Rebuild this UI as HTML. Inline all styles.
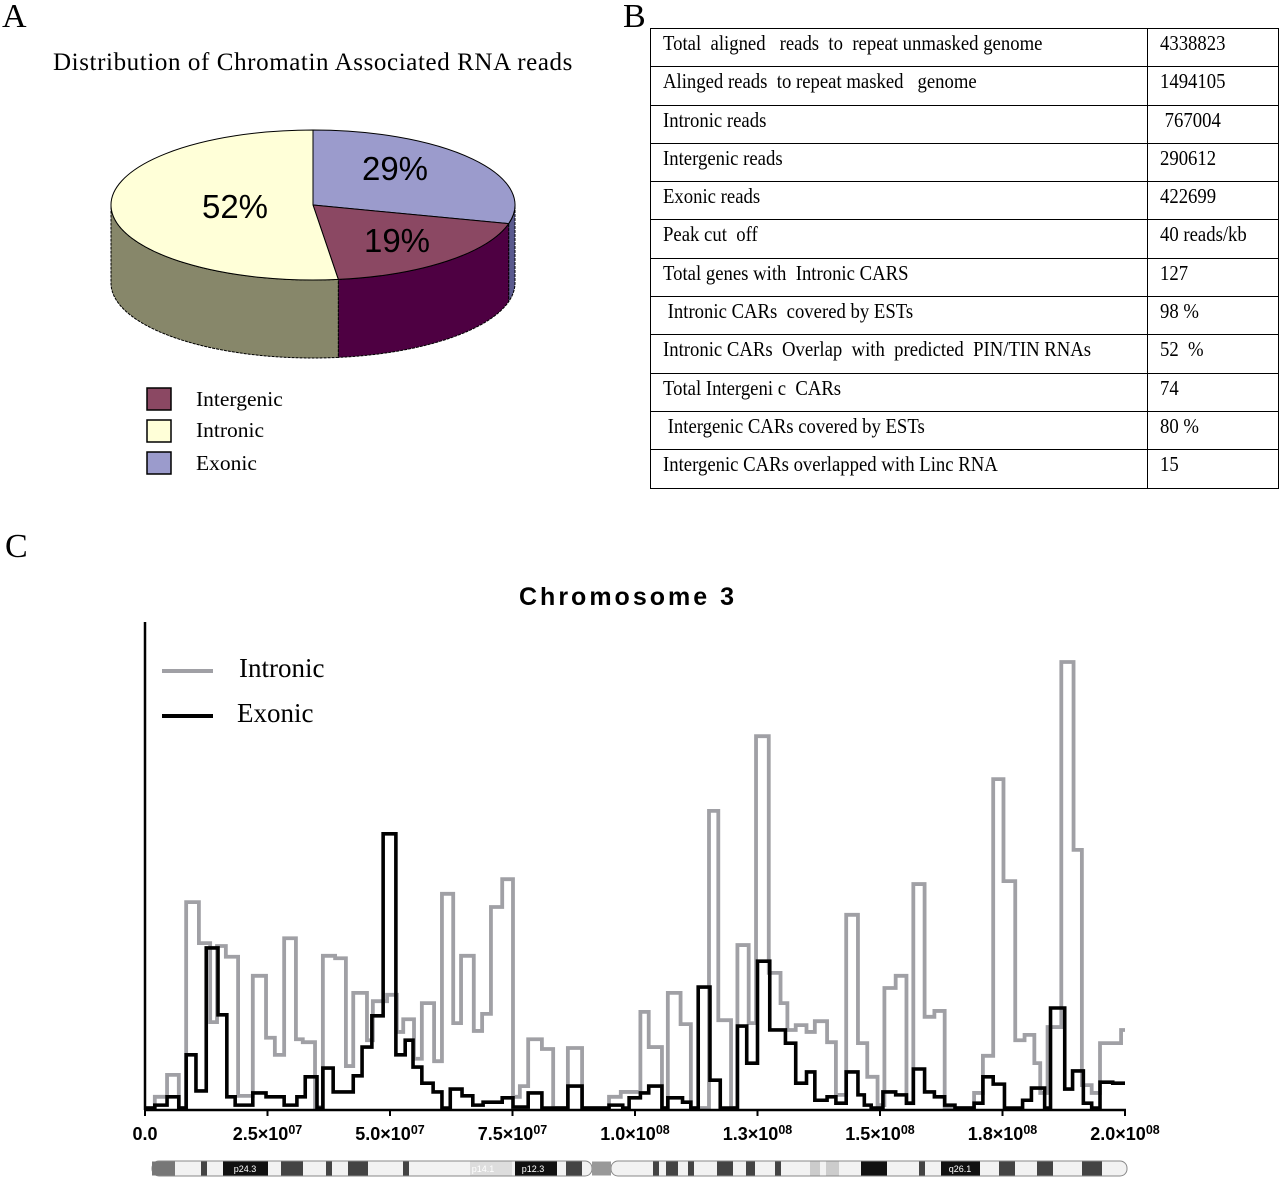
<!DOCTYPE html>
<html><head><meta charset="utf-8">
<style>
html,body{margin:0;padding:0;background:#fff;}
body{width:1280px;height:1182px;position:relative;overflow:hidden;font-family:"Liberation Serif",serif;}
.abs{position:absolute;}
.panel-letter{font-size:34px;color:#000;line-height:1;}
table{border-collapse:collapse;table-layout:fixed;}
td{border:1.5px solid #000;height:37.3px;padding:0 0 0 12px;vertical-align:top;font-size:21.5px;line-height:28px;white-space:nowrap;overflow:visible;}
td span{display:inline-block;transform:scaleX(0.87);transform-origin:left center;}
</style></head><body>

<div class="abs panel-letter" style="left:2px;top:0px;">A</div>
<div class="abs panel-letter" style="left:623px;top:0px;">B</div>
<div class="abs panel-letter" style="left:5px;top:530px;">C</div>

<svg class="abs" style="left:0;top:0" width="620" height="500">
  <text x="313" y="70" text-anchor="middle" font-family="Liberation Serif, serif" font-size="25" letter-spacing="0.6">Distribution of Chromatin Associated RNA reads</text>
  <g id="pie"></g>
  <g>
    <rect x="147" y="388" width="24" height="22" fill="#8b4863" stroke="#000" stroke-width="1.5"/>
    <text x="196" y="406" font-size="21.5">Intergenic</text>
    <rect x="147" y="420" width="24" height="22" fill="#ffffd8" stroke="#000" stroke-width="1.5"/>
    <text x="196" y="437" font-size="21.5">Intronic</text>
    <rect x="147" y="452" width="24" height="22" fill="#9b9bcc" stroke="#000" stroke-width="1.5"/>
    <text x="196" y="470" font-size="21.5">Exonic</text>
  </g>
</svg>

<table class="abs" style="left:650px;top:28px;width:628px;">
<colgroup><col style="width:497px"><col style="width:131px"></colgroup>
<tr><td><span>Total&nbsp; aligned&nbsp;&nbsp; reads&nbsp; to&nbsp; repeat unmasked genome</span></td><td><span>4338823</span></td></tr>
<tr><td><span>Alinged reads&nbsp; to repeat masked&nbsp;&nbsp; genome</span></td><td><span>1494105</span></td></tr>
<tr><td><span>Intronic reads</span></td><td><span>&nbsp;767004</span></td></tr>
<tr><td><span>Intergenic reads</span></td><td><span>290612</span></td></tr>
<tr><td><span>Exonic reads</span></td><td><span>422699</span></td></tr>
<tr><td><span>Peak cut&nbsp; off</span></td><td><span>40 reads/kb</span></td></tr>
<tr><td><span>Total genes with&nbsp; Intronic CARS</span></td><td><span>127</span></td></tr>
<tr><td><span>&nbsp;Intronic CARs&nbsp; covered by ESTs</span></td><td><span>98 %</span></td></tr>
<tr><td><span>Intronic CARs&nbsp; Overlap&nbsp; with&nbsp; predicted&nbsp; PIN/TIN RNAs</span></td><td><span>52&nbsp; %</span></td></tr>
<tr><td><span>Total Intergeni c&nbsp; CARs</span></td><td><span>74</span></td></tr>
<tr><td><span>&nbsp;Intergenic CARs covered by ESTs</span></td><td><span>80 %</span></td></tr>
<tr><td><span>Intergenic CARs overlapped with Linc RNA</span></td><td><span>15</span></td></tr>
</table>

<svg class="abs" style="left:0;top:560px" width="1280" height="622">
  <g transform="translate(0,-560)">
    <text x="628" y="605" text-anchor="middle" font-family="Liberation Sans, sans-serif" font-weight="bold" font-size="25" letter-spacing="3">Chromosome 3</text>
    <line x1="162" y1="671" x2="213" y2="671" stroke="#a0a0a5" stroke-width="4"/>
    <text x="239" y="677" font-size="27">Intronic</text>
    <line x1="162" y1="716" x2="213" y2="716" stroke="#000" stroke-width="4"/>
    <text x="237" y="722" font-size="27">Exonic</text>
    <g id="plot"></g>
    <g id="ideo"></g>
  </g>
</svg>

<script>
// ---- Pie data ----
const pieCategories = ["Exonic", "Intergenic", "Intronic"];
const piePercents = [29, 19, 52];

// ---- Chromosome 3 histogram data (start positions in Mb, values in relative read density) ----
const xTickValues = [0, 25, 50, 75, 100, 125, 150, 175, 200];
const xTickMantissa = ["0.0", "2.5", "5.0", "7.5", "1.0", "1.3", "1.5", "1.8", "2.0"];
const xTickExponent = ["", "07", "07", "07", "08", "08", "08", "08", "08"];
const intronicStarts = [0,2.0,4.5,6.9,8.4,11.0,13.3,14.7,16.5,19.0,22.0,24.7,26.5,28.4,30.8,32.2,34.7,36.3,38.8,41.0,42.5,45.3,46.5,49.4,51.4,52.7,54.9,56.5,59.0,60.6,62.9,64.5,67.1,68.8,70.6,72.9,75.1,76.5,78.2,81.0,83.3,86.3,89.2,94.7,97.1,101.1,102.8,105.5,106.7,109.3,111.4,115.1,117.0,119.6,120.9,123.2,124.7,127.3,129.7,131.1,132.8,135.0,136.7,139.2,141.0,143.1,145.5,147.4,149.5,150.9,153.2,155.4,156.8,159.1,161.1,163.2,169.2,171.0,173.1,175.2,177.6,179.5,181.5,182.7,184.2,187.0,189.5,191.2,193.2,194.9,199.2];
const intronicValues = [0.4,2.7,7.2,0.4,42.6,34.2,18.0,33.6,31.4,2.9,27.5,14.8,11.3,35.2,14.5,13.9,0.6,31.6,31.1,9.0,24.0,14.3,22.3,23.6,16.0,18.6,10.5,21.9,10.0,44.3,17.8,31.6,16.2,19.7,41.6,47.3,2.7,4.9,14.5,12.5,0.4,12.7,0.4,2.7,3.7,20.1,12.9,0.4,24.0,17.6,0.4,61.3,18.4,0.4,33.8,17.8,76.6,28.1,21.9,16.4,17.4,16.0,18.2,13.9,3.1,40.0,13.7,6.8,1.0,25.0,27.5,1.4,46.3,19.1,20.3,0.4,3.5,11.1,67.8,46.9,14.3,15.4,9.6,3.5,17.0,91.8,53.3,5.1,3.5,13.7,16.4];
const exonicStarts = [0,2.0,4.5,6.9,8.4,10.4,12.5,14.9,16.7,18.4,22.0,24.7,28.4,31.0,32.7,35.1,36.3,38.4,42.5,44.3,46.3,48.6,51.2,53.1,54.7,56.5,58.8,60.6,62.3,64.7,66.9,69.0,72.9,75.1,78.2,81.0,86.3,89.2,94.7,97.5,98.8,101.1,102.8,105.5,106.7,109.7,111.4,112.9,115.3,117.4,120.9,122.8,125.0,127.5,130.7,132.8,135.0,136.7,139.2,141.0,143.1,145.5,146.8,148.2,150.6,153.2,155.4,156.8,159.1,161.1,163.2,165.3,169.2,171.0,173.1,175.4,179.1,180.9,183.6,184.8,187.7,189.3,191.5,193.2,194.9,197.5];
const exonicValues = [0.4,1.0,2.7,0.4,11.3,3.9,33.2,19.5,2.7,1.0,3.5,2.7,1.0,2.7,6.8,0.4,8.6,3.7,7.0,12.9,19.3,56.6,11.3,14.3,8.8,5.5,3.7,0.4,4.3,2.9,1.0,1.6,2.5,0.6,3.5,0.4,4.9,0.4,1.0,0.4,2.5,3.5,4.9,0.4,2.5,1.6,0.4,25.2,6.1,0.4,17.2,9.6,30.5,16.4,13.7,5.5,7.8,2.0,2.7,1.4,7.8,3.1,1.0,0.4,3.7,3.1,1.4,8.4,3.7,2.7,1.0,0.4,1.4,6.8,5.3,0.4,2.0,4.5,0.4,20.9,4.3,8.0,1.4,0.4,5.7,5.5];

const NS = "http://www.w3.org/2000/svg";
function mk(tag, attrs, parent){const e=document.createElementNS(NS,tag);for(const k in attrs)e.setAttribute(k,attrs[k]);parent.appendChild(e);return e;}

// ---- Pie ----
(function(){
  const g=document.getElementById('pie');
  const cx=313, cy=205, rx=202, ry=75, depth=78;
  const topCol={"Exonic":"#9b9bcc","Intergenic":"#8b4863","Intronic":"#ffffd8"};
  const sideCol={"Exonic":"#5a5a8e","Intergenic":"#4e0042","Intronic":"#87876a"};
  const P=(t,dy)=>{const r=t*Math.PI/180;return [cx+rx*Math.sin(r), cy-ry*Math.cos(r)+(dy||0)];};
  const total=piePercents.reduce((a,b)=>a+b,0);
  let a=0; const spans=[];
  piePercents.forEach((p,i)=>{const b=a+p/total*360;spans.push([a,b,pieCategories[i]]);a=b;});
  spans.forEach(([s,e,c])=>{
    const s2=Math.max(s,90), e2=Math.min(e,270);
    if(e2<=s2) return;
    const p1=P(s2),p2=P(e2),p3=P(e2,depth),p4=P(s2,depth);
    const el=mk('path',{d:`M${p1} A${rx} ${ry} 0 0 1 ${p2} L${p3} A${rx} ${ry} 0 0 0 ${p4} Z`,fill:sideCol[c],stroke:'#000','stroke-width':1,'stroke-dasharray':'3 1'},g);
    
    
  });
  spans.forEach(([s,e,c])=>{
    const p1=P(s),p2=P(e);const large=(e-s)>180?1:0;
    const el=mk('path',{d:`M${cx},${cy} L${p1} A${rx} ${ry} 0 ${large} 1 ${p2} Z`,fill:topCol[c],stroke:'#000','stroke-width':1},g);
    
    
  });
  const labelPos={"Exonic":[395,180],"Intergenic":[397,252],"Intronic":[235,218]};
  spans.forEach(([s,e,c],i)=>{
    const t=mk('text',{x:labelPos[c][0],y:labelPos[c][1],'text-anchor':'middle','font-family':'Liberation Sans, sans-serif','font-size':33},g);
    t.textContent=piePercents[i]+'%';
    
    
  });
})();

// ---- Step chart ----
(function(){
  const g=document.getElementById('plot');
  const x0=145,x1=1125,y0=1110,yTop=622;
  const X=v=>x0+(v-0)/(200-0)*(x1-x0);
  const Y=v=>y0-v/100*(y0-yTop);
  function stepPath(starts,vals){
    let d=`M${X(starts[0])},${Y(vals[0])}`;
    for(let i=0;i<starts.length;i++){
      const end=i+1<starts.length?starts[i+1]:200;
      d+=` V${Y(vals[i])} H${X(end)}`;
    }
    return d;
  }
  const gp=mk('path',{d:stepPath(intronicStarts,intronicValues),fill:'none',stroke:'#a0a0a5','stroke-width':3.8},g);
  
  
  const bp=mk('path',{d:stepPath(exonicStarts,exonicValues),fill:'none',stroke:'#000','stroke-width':3.6},g);
  
  
  const ya=mk('line',{x1:x0,y1:yTop,x2:x0,y2:y0,stroke:'#000','stroke-width':2.5},g);
  
  
  const xa=mk('line',{x1:x0,y1:y0,x2:x1+1,y2:y0,stroke:'#000','stroke-width':2.5},g);
  
  
  xTickValues.forEach((v,i)=>{
    const tk=mk('line',{x1:X(v),y1:y0,x2:X(v),y2:y0+6,stroke:'#000','stroke-width':2},g);
    
    
    const t=mk('text',{x:X(v),y:1140,'text-anchor':'middle','font-family':'Liberation Sans, sans-serif','font-weight':'bold','font-size':18},g);
    
    
    t.appendChild(document.createTextNode(xTickMantissa[i]+(xTickExponent[i]?'×10':'')));
    if(xTickExponent[i]){const s=mk('tspan',{dy:-6,'font-size':12.5},t);s.textContent=xTickExponent[i];}
  });
})();

// ---- Ideogram ----
(function(){
  const g=document.getElementById('ideo');
  const y=1161,h=15;
  const p=mk('rect',{x:152,y:y,width:440,height:h,rx:7,fill:'#f2f2f2',stroke:'#888','stroke-width':1},g);
  
  
  const q=mk('rect',{x:611,y:y,width:516,height:h,rx:7,fill:'#f2f2f2',stroke:'#888','stroke-width':1},g);
  
  
  const bands=[[152,175,'#777'],[201,207,'#444'],[223,268,'#111'],[281,303,'#444'],[326,332,'#444'],[348,368,'#444'],[403,409,'#444'],[470,512,'#ddd'],[515,557,'#111'],[566,582,'#444'],[592,611,'#999'],[653,659,'#444'],[666,678,'#444'],[688,694,'#444'],[717,733,'#444'],[746,755,'#444'],[775,781,'#444'],[810,820,'#ccc'],[826,839,'#ccc'],[861,887,'#111'],[919,925,'#444'],[941,980,'#111'],[999,1015,'#444'],[1037,1053,'#444'],[1082,1102,'#444']];
  bands.forEach(b=>{
    const r=mk('rect',{x:b[0],y:y+0.5,width:b[1]-b[0],height:h-1,fill:b[2]},g);
    
    
  });
  [[245,'p24.3'],[483,'p14.1'],[533,'p12.3'],[960,'q26.1']].forEach(l=>{
    const t=mk('text',{x:l[0],y:y+11,'text-anchor':'middle','font-family':'Liberation Sans, sans-serif','font-size':9,fill:'#fff'},g);
    t.textContent=l[1];
    
    
  });
})();
</script>
</body></html>
